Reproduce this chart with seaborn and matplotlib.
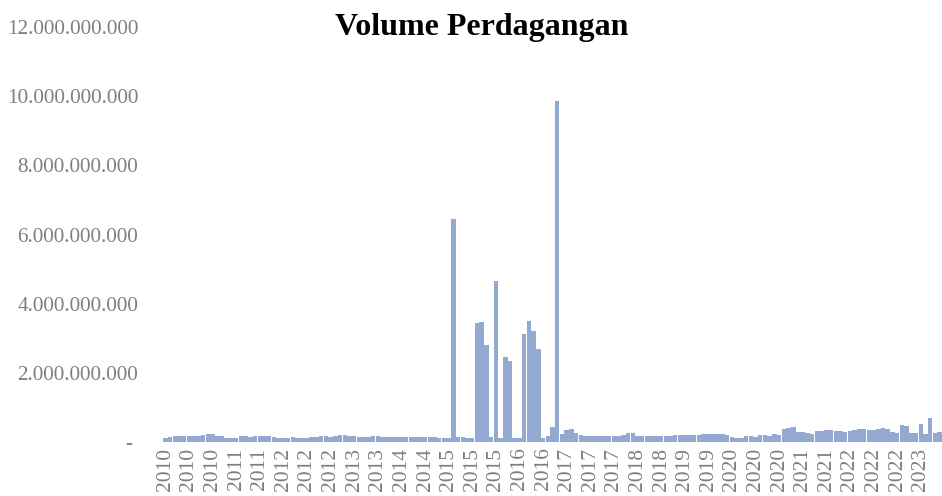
import numpy as np
import pandas as pd
import matplotlib
matplotlib.use("Agg")
import matplotlib.pyplot as plt
import seaborn as sb
from matplotlib.ticker import FuncFormatter

# monthly trading volume (in millions), Jan 2010 - Sep 2023
vol_2010 = [105, 150, 160, 165, 170, 165, 170, 175, 210, 235, 225, 180]
vol_2011 = [165, 110, 105, 115, 160, 170, 150, 160, 165, 170, 160, 140]
vol_2012 = [130, 125, 130, 135, 130, 125, 130, 135, 150, 160, 165, 155]
vol_2013 = [160, 210, 190, 170, 160, 150, 155, 150, 160, 165, 150, 140]
vol_2014 = [140, 135, 140, 145, 135, 140, 145, 150, 155, 140, 125, 120]
vol_2015 = [130, 6450, 140, 135, 130, 130, 3440, 3460, 2800, 140, 4650, 120]
vol_2016 = [2450, 2330, 110, 130, 3120, 3500, 3200, 2680, 130, 180, 420, 9850]
vol_2017 = [220, 360, 380, 260, 190, 180, 170, 175, 160, 165, 170, 165]
vol_2018 = [175, 200, 250, 260, 180, 170, 165, 175, 165, 170, 165, 175]
vol_2019 = [190, 200, 200, 195, 200, 215, 240, 245, 220, 225, 240, 200]
vol_2020 = [140, 130, 125, 160, 180, 150, 210, 200, 170, 220, 210, 380]
vol_2021 = [410, 420, 300, 300, 270, 240, 330, 320, 350, 340, 330, 320]
vol_2022 = [300, 310, 340, 370, 380, 350, 360, 380, 400, 390, 300, 270]
vol_2023 = [480, 470, 270, 260, 530, 240, 690, 250, 300]

volume = np.array(vol_2010 + vol_2011 + vol_2012 + vol_2013 + vol_2014 + vol_2015 + vol_2016
                  + vol_2017 + vol_2018 + vol_2019 + vol_2020 + vol_2021 + vol_2022 + vol_2023) * 1e6
bulan = pd.date_range("2010-01-01", periods=len(volume), freq="MS")

df = pd.DataFrame({"bulan": bulan.strftime("%Y-%m"), "volume": volume})

fig = plt.figure(figsize=(9.42, 4.96), dpi=100)
ax = fig.add_axes([163 / 942, 54 / 496, 779 / 942, 415 / 496])

sb.barplot(data=df, x="bulan", y="volume", color="#94a9d2", width=0.95,
           saturation=1, linewidth=0, ax=ax)

ax.set_ylim(0, 12e9)
ax.set_xlim(-0.5, len(volume) - 0.5)
ax.set_yticks(np.arange(0, 12e9 + 1, 2e9))

def fmt(v, pos):
    if v == 0:
        return "- "
    return f"{int(round(v)):,}".replace(",", ".")

ax.yaxis.set_major_formatter(FuncFormatter(fmt))

tick_pos = np.arange(0, len(volume), 5)
ax.set_xticks(tick_pos)
ax.set_xticklabels([str(bulan[i].year) for i in tick_pos], rotation=90)

ax.tick_params(axis="y", length=0, pad=18, labelsize=15.2, labelcolor="#7f7f7f")
ax.tick_params(axis="x", length=0, pad=4, labelsize=15.5, labelcolor="#7f7f7f")
for lab in ax.get_xticklabels() + ax.get_yticklabels():
    lab.set_family("Liberation Serif")

for s in ax.spines.values():
    s.set_visible(False)
ax.set_xlabel("")
ax.set_ylabel("")

fig.text(482 / 942, 1 - 28 / 496, "Volume Perdagangan", ha="center", va="center",
         fontsize=23, fontweight="bold", family="Liberation Serif")

fig.savefig("out.png", dpi=100)
